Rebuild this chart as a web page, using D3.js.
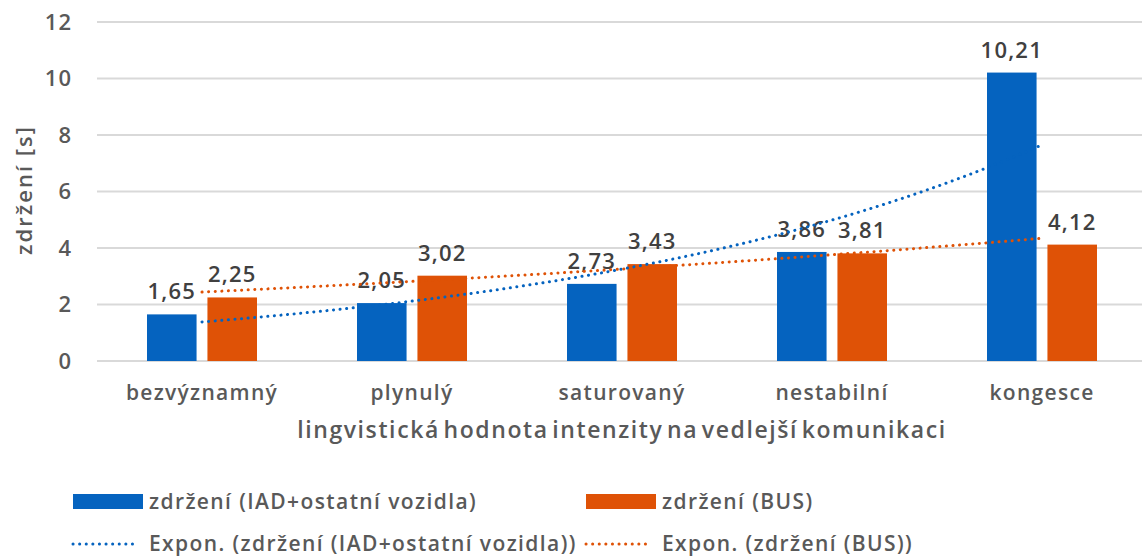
<!DOCTYPE html>
<html>
<head>
<meta charset="utf-8">
<script src="https://cdn.jsdelivr.net/npm/d3@7"></script>
<style>
  body { margin: 0; background: #fff; }
  svg { font-family: 'Open Sans', sans-serif; font-weight: 600; }
</style>
</head>
<body>
<svg id="chart" width="1142" height="558"></svg>
<script>
// DATA
const categories = ['bezvýznamný', 'plynulý', 'saturovaný', 'nestabilní', 'kongesce'];
const seriesIAD = [1.65, 2.05, 2.73, 3.86, 10.21];
const seriesBUS = [2.25, 3.02, 3.43, 3.81, 4.12];
const seriesNames = ['zdržení (IAD+ostatní vozidla)', 'zdržení (BUS)'];
const trendNames = ['Expon. (zdržení (IAD+ostatní vozidla))', 'Expon. (zdržení (BUS))'];
const yTicks = [0, 2, 4, 6, 8, 10, 12];
const colors = ['#0563BF', '#DF5206'];

// SETUP
const svg = d3.select('svg'),
  margin = { top: 22, right: 0, bottom: 197, left: 97 },
  width = 1147 - margin.left,
  height = 558 - margin.top - margin.bottom;

const x = d3.scaleBand().domain(categories).range([0, width]);
const x1 = d3.scaleBand().domain([0, 1]).range([50, 160]).paddingInner(0.18);
const y = d3.scaleLinear().domain([0, 12]).range([height, 0]);

const g = svg.append('g')
  .attr('transform', 'translate(' + margin.left + ',' + margin.top + ')');

// GRID
g.append('g')
  .selectAll('line')
  .data(yTicks)
  .enter()
  .append('line')
  .attr('x1', 0)
  .attr('x2', width)
  .attr('y1', d => y(d))
  .attr('y2', d => y(d))
  .attr('stroke', '#d9d9d9')
  .attr('stroke-width', 2);

// Y AXIS
const yAxis = g.append('g').call(d3.axisLeft(y).tickValues(yTicks).tickSize(0).tickPadding(25));
yAxis.select('.domain').remove();
yAxis.selectAll('text')
  .attr('font-size', 22)
  .attr('font-family', "'Open Sans', sans-serif")
  .attr('font-weight', 600)
  .attr('letter-spacing', 1)
  .attr('fill', '#595959');

g.append('text')
  .attr('transform', 'rotate(-90)')
  .attr('x', -168)
  .attr('y', -65)
  .attr('text-anchor', 'middle')
  .attr('font-size', 22)
  .attr('letter-spacing', 2)
  .attr('fill', '#595959')
  .text('zdržení [s]');

// X AXIS
const xAxis = g.append('g')
  .attr('transform', 'translate(0,' + height + ')')
  .call(d3.axisBottom(x).tickSize(0).tickPadding(24));
xAxis.select('.domain').remove();
xAxis.selectAll('text')
  .attr('font-size', 21)
  .attr('font-family', "'Open Sans', sans-serif")
  .attr('font-weight', 600)
  .attr('letter-spacing', 1.3)
  .attr('fill', '#595959');

g.append('text')
  .attr('x', x(categories[2]) + x.bandwidth() / 2)
  .attr('y', height + 77)
  .attr('text-anchor', 'middle')
  .attr('font-size', 23)
  .attr('letter-spacing', 1.6)
  .attr('word-spacing', -4)
  .attr('fill', '#595959')
  .text('lingvistická hodnota intenzity na vedlejší komunikaci');

// BARS
const series = [seriesIAD, seriesBUS];
series.forEach((vals, si) => {
  const bars = g.append('g');
  bars.selectAll('rect')
    .data(vals)
    .enter()
    .append('rect')
    .attr('x', (d, i) => x(categories[i]) + x1(si))
    .attr('y', d => y(d))
    .attr('width', x1.bandwidth())
    .attr('height', d => height - y(d))
    .attr('fill', colors[si]);
  bars.selectAll('text')
    .data(vals)
    .enter()
    .append('text')
    .attr('x', (d, i) => x(categories[i]) + x1(si) + x1.bandwidth() / 2)
    .attr('y', d => y(d) - 15)
    .attr('text-anchor', 'middle')
    .attr('font-size', 22)
    .attr('letter-spacing', 1.2)
    .attr('fill', '#404040')
    .text(d => d3.format('.2f')(d).replace('.', ','));
});

// TRENDLINES (exponential least squares fit, like Excel)
function expFit(vals) {
  const xs = vals.map((d, i) => i + 1),
    ls = vals.map(d => Math.log(d)),
    mx = d3.mean(xs),
    ml = d3.mean(ls);
  const b = d3.sum(xs, (xi, i) => (xi - mx) * (ls[i] - ml)) / d3.sum(xs, xi => (xi - mx) ** 2);
  const a = ml - b * mx;
  return t => Math.exp(a + b * t);
}
const line = d3.line()
  .x(d => x(categories[0]) + x.bandwidth() / 2 + (d[0] - 1) * x.step())
  .y(d => y(d[1]))
  .curve(d3.curveBasis);

series.forEach((vals, si) => {
  const f = expFit(vals);
  const pts = d3.range(1, 5.001, 0.05).map(t => [t, f(t)]);
  g.append('path')
    .attr('d', line(pts))
    .attr('fill', 'none')
    .attr('stroke', colors[si])
    .attr('stroke-width', 3)
    .attr('stroke-linecap', 'round')
    .attr('stroke-dasharray', '0.1 6.5');
});

// LEGEND
const legend = svg.append('g')
  .attr('font-size', 21)
  .attr('letter-spacing', 1.4)
  .attr('fill', '#595959');
const legendX = [73, 586];
seriesNames.forEach((name, i) => {
  legend.append('rect')
    .attr('x', legendX[i])
    .attr('y', 494)
    .attr('width', 70)
    .attr('height', 15)
    .attr('fill', colors[i]);
  legend.append('text')
    .attr('x', legendX[i] + 76)
    .attr('y', 509)
    .text(name);
});
trendNames.forEach((name, i) => {
  legend.append('line')
    .attr('x1', legendX[i])
    .attr('x2', legendX[i] + 60)
    .attr('y1', 544)
    .attr('y2', 544)
    .attr('stroke', colors[i])
    .attr('stroke-width', 3)
    .attr('stroke-linecap', 'round')
    .attr('stroke-dasharray', '0.1 6.5');
  legend.append('text')
    .attr('x', legendX[i] + 76)
    .attr('y', 551)
    .text(name);
});
</script>
</body>
</html>
